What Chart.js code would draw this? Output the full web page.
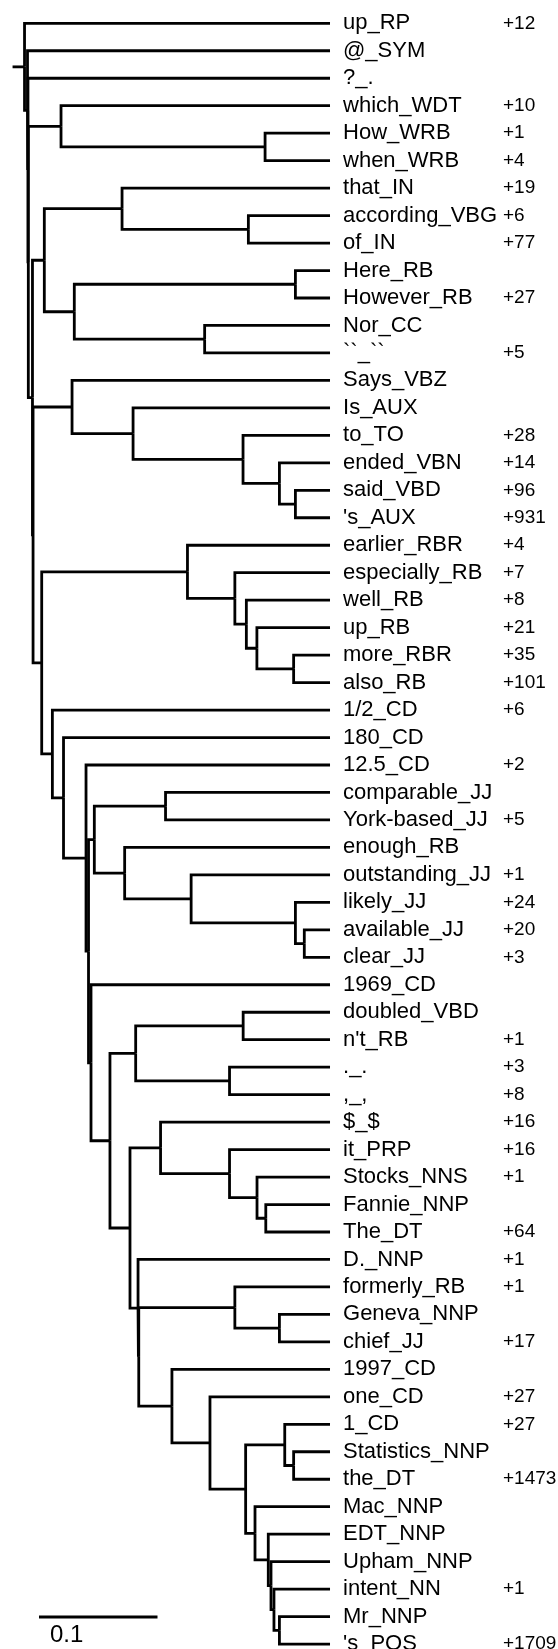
<!DOCTYPE html>
<html>
<head>
<meta charset="utf-8">
<script src="https://cdn.jsdelivr.net/npm/chart.js@4.4.1/dist/chart.umd.min.js"></script>
<style>
  html, body { margin: 0; padding: 0; background: #fff; }
  #tree { display: block; }
</style>
</head>
<body>
<canvas id="tree" width="558" height="1649"></canvas>
<script>
// leaves, top to bottom
const leafLabels = [
    'up_RP', '@_SYM', '?_.', 'which_WDT', 'How_WRB', 'when_WRB', 'that_IN', 'according_VBG', 'of_IN', 'Here_RB',
    'However_RB', 'Nor_CC', '``_``', 'Says_VBZ', 'Is_AUX', 'to_TO', 'ended_VBN', 'said_VBD', "'s_AUX", 'earlier_RBR',
    'especially_RB', 'well_RB', 'up_RB', 'more_RBR', 'also_RB', '1/2_CD', '180_CD', '12.5_CD', 'comparable_JJ', 'York-based_JJ',
    'enough_RB', 'outstanding_JJ', 'likely_JJ', 'available_JJ', 'clear_JJ', '1969_CD', 'doubled_VBD', "n't_RB", '._.', ',_,',
    '$_$', 'it_PRP', 'Stocks_NNS', 'Fannie_NNP', 'The_DT', 'D._NNP', 'formerly_RB', 'Geneva_NNP', 'chief_JJ', '1997_CD',
    'one_CD', '1_CD', 'Statistics_NNP', 'the_DT', 'Mac_NNP', 'EDT_NNP', 'Upham_NNP', 'intent_NN', 'Mr_NNP', "'s_POS"
];

// extra members collapsed into each leaf (null = none)
const leafCounts = [
    12, null, null, 10, 1, 4, 19, 6, 77, null,
    27, null, 5, null, null, 28, 14, 96, 931, 4,
    7, 8, 21, 35, 101, 6, null, 2, null, 5,
    null, 1, 24, 20, 3, null, null, 1, 3, 8,
    16, 16, 1, null, 64, 1, 1, null, 17, null,
    27, 27, null, 1473, null, null, null, 1, null, 1709
];

// internal nodes: number = leaf index, string = node id
const nodeIds    = ['root', 'n1', 'n2', 'n3', 'a2', 'a1', 'n4', 'n5', 'b2', 'b1', 'c3', 'c1', 'c2',
                    'n6', 'd', 'd2', 'd3', 'd4', 'd5', 'n7', 'e', 'e2', 'e3', 'e4', 'e5',
                    'f', 'f2', 'f3', 'f4', 'g', 'h', 'i', 'i2', 'i3', 'i4', 'f5', 'f6',
                    'j', 'k', 'l', 'm', 'n', 'p2', 'p3', 'p4', 'o', 'o2', 'q', 'q2',
                    's', 't', 'u', 'v', 'v2', 'w', 'w2', 'w3', 'w4', 'w5'];
const nodeLeft   = [0, 1, 2, 'a2', 3, 4, 'n5', 'b2', 6, 7, 'c1', 9, 11,
                    'd', 13, 14, 15, 16, 17, 'e', 19, 20, 21, 22, 23,
                    25, 26, 27, 'g', 'h', 28, 30, 31, 32, 33, 35, 'j',
                    'k', 36, 38, 'n', 40, 41, 42, 43, 45, 'q', 46, 47,
                    49, 50, 'v', 51, 52, 54, 55, 56, 57, 58];
const nodeRight  = ['n1', 'n2', 'n3', 'n4', 'a1', 5, 'n6', 'c3', 'b1', 8, 'c2', 10, 12,
                    'n7', 'd2', 'd3', 'd4', 'd5', 18, 'f', 'e2', 'e3', 'e4', 'e5', 24,
                    'f2', 'f3', 'f4', 'f5', 'i', 29, 'i2', 'i3', 'i4', 34, 'f6', 'm',
                    'l', 37, 39, 'o', 'p2', 'p3', 'p4', 44, 'o2', 's', 'q2', 48,
                    't', 'u', 'w', 'v2', 53, 'w2', 'w3', 'w4', 'w5', 59];
const nodeHeight = [0.2578, 0.2553, 0.2549, 0.2546, 0.2270, 0.0548, 0.2511, 0.2411, 0.1755, 0.0689, 0.2158, 0.0292, 0.1058,
                    0.2506, 0.2177, 0.1662, 0.0734, 0.0427, 0.0292, 0.2433, 0.1203, 0.0803, 0.0706, 0.0617, 0.0307,
                    0.2343, 0.2249, 0.2059, 0.2038, 0.1989, 0.1388, 0.1733, 0.1172, 0.0292, 0.0217, 0.2017, 0.1857,
                    0.1640, 0.0733, 0.0848, 0.1688, 0.1430, 0.0848, 0.0616, 0.0542, 0.1620, 0.1614, 0.0803, 0.0427,
                    0.1334, 0.1013, 0.0712, 0.0382, 0.0307, 0.0633, 0.0521, 0.0498, 0.0473, 0.0427];
const rootEdge = 0.0101;
const scaleBarLength = 0.1;

// --- build the elbow segments ---
const nodeIndex = {};
nodeIds.forEach((id, k) => { nodeIndex[id] = k; });

function heightOf(ref) {
    return typeof ref === 'number' ? 0 : nodeHeight[nodeIndex[ref]];
}

const yCache = {};
function yOf(ref) {
    if (typeof ref === 'number') return ref;
    if (yCache[ref] === undefined) {
        const k = nodeIndex[ref];
        yCache[ref] = (yOf(nodeLeft[k]) + yOf(nodeRight[k])) / 2;
    }
    return yCache[ref];
}

const segments = [];
nodeIds.forEach((id, k) => {
    const h = nodeHeight[k];
    const y = yOf(id);
    [nodeLeft[k], nodeRight[k]].forEach(child => {
        segments.push([
            { x: h, y: y },
            { x: h, y: yOf(child) },
            { x: heightOf(child), y: yOf(child) }
        ]);
    });
});
segments.push([
    { x: heightOf('root') + rootEdge, y: yOf('root') },
    { x: heightOf('root'), y: yOf('root') }
]);

const datasets = segments.map(points => ({
    data: points,
    showLine: true,
    borderColor: '#000',
    borderWidth: 2.8,
    borderCapStyle: 'butt',
    borderJoinStyle: 'miter',
    pointRadius: 0,
    tension: 0
}));

// labels, counts and scale bar
const treeText = {
    id: 'treeText',
    afterDraw(chart) {
        const { ctx, scales: { x, y }, chartArea } = chart;
        const tipX = x.getPixelForValue(0);
        ctx.save();
        ctx.fillStyle = '#000';
        ctx.textAlign = 'left';
        ctx.textBaseline = 'middle';
        leafLabels.forEach((label, i) => {
            const py = y.getPixelForValue(i);
            ctx.font = '22px "Liberation Sans", Arial, sans-serif';
            ctx.fillText(label, tipX + 13, py);
            if (leafCounts[i] !== null) {
                ctx.font = '19px "Liberation Sans", Arial, sans-serif';
                ctx.fillText('+' + leafCounts[i], tipX + 173, py);
            }
        });

        const barPx = Math.abs(x.getPixelForValue(0) - x.getPixelForValue(scaleBarLength));
        const barX = chartArea.left + 39;
        const barY = chartArea.bottom - 32;
        ctx.strokeStyle = '#000';
        ctx.lineWidth = 2.8;
        ctx.beginPath();
        ctx.moveTo(barX, barY);
        ctx.lineTo(barX + barPx, barY);
        ctx.stroke();
        ctx.font = '24px "Liberation Sans", Arial, sans-serif';
        ctx.textBaseline = 'alphabetic';
        ctx.fillText(String(scaleBarLength), barX + 11, chartArea.bottom - 7);
        ctx.restore();
    }
};

new Chart(document.getElementById('tree'), {
    type: 'scatter',
    data: { datasets },
    options: {
        responsive: false,
        animation: false,
        layout: { padding: 0 },
        plugins: {
            legend: { display: false },
            tooltip: { enabled: false }
        },
        scales: {
            x: { type: 'linear', reverse: true, min: -0.1924, max: 0.2785, display: false },
            y: { type: 'linear', reverse: true, min: -0.848, max: 59.18, display: false }
        }
    },
    plugins: [treeText]
});
</script>
</body>
</html>
